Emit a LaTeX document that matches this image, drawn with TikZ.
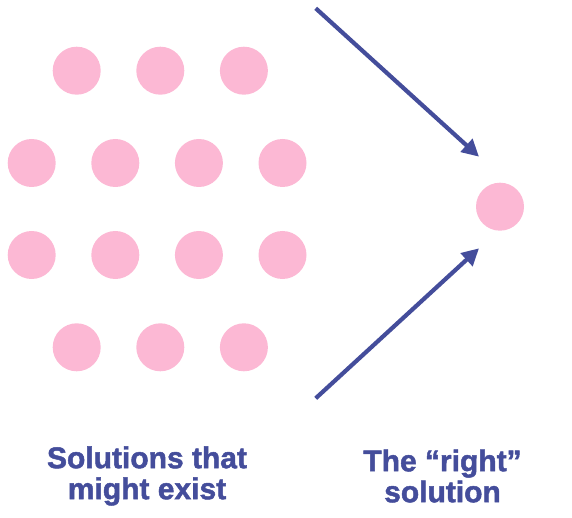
\documentclass[tikz,border=0pt]{standalone}
\usepackage{fontspec}
\setmainfont{Liberation Sans}
\newfontfamily\capfont{Liberation Sans Bold}[FakeBold=1.6]
\usepackage{xcolor}
\usetikzlibrary{arrows.meta,positioning}

\definecolor{dotpink}{HTML}{FCB8D4}
\definecolor{inkblue}{HTML}{444D9B}

\begin{document}
\begin{tikzpicture}[x=1pt,y=-1pt]
      \tikzstyle{dot}=[circle,fill=dotpink,minimum size=48pt,inner sep=0pt]
      \tikzstyle{arr}=[draw=inkblue,line width=4.2pt,-{Triangle[length=17pt,width=17pt]}]
      \tikzstyle{caption}=[text=inkblue,font=\capfont\fontsize{30}{31}\selectfont,align=center]

      \useasboundingbox (0,0) rectangle (572,518);

      % the solutions that might exist
      \begin{scope}[node distance=83.6pt]
        \node [dot] (A1) at (76.7,70.7) {};
        \node [dot] (A2) [right of=A1] {};
        \node [dot] (A3) [right of=A2] {};

        \node [dot] (B1) at (31.7,163) {};
        \node [dot] (B2) [right of=B1] {};
        \node [dot] (B3) [right of=B2] {};
        \node [dot] (B4) [right of=B3] {};

        \node [dot] (C1) at (31.7,255) {};
        \node [dot] (C2) [right of=C1] {};
        \node [dot] (C3) [right of=C2] {};
        \node [dot] (C4) [right of=C3] {};

        \node [dot] (D1) at (76.7,347.3) {};
        \node [dot] (D2) [right of=D1] {};
        \node [dot] (D3) [right of=D2] {};
      \end{scope}

      % the right one
      \node [dot] (best) at (500,206.7) {};

      \coordinate (top) at (315.7,8.3);
      \coordinate (topend) at (479,156.7);
      \coordinate (bottom) at (315.7,398.3);
      \coordinate (bottomend) at (479,248.3);

      \draw [arr] (top) -- (topend);
      \draw [arr] (bottom) -- (bottomend);

      \node [caption] (many) at (147,476) {Solutions that\\might exist};
      \node [caption] (one) at (442.5,476) {The “right”\\solution};

\end{tikzpicture}
\end{document}
